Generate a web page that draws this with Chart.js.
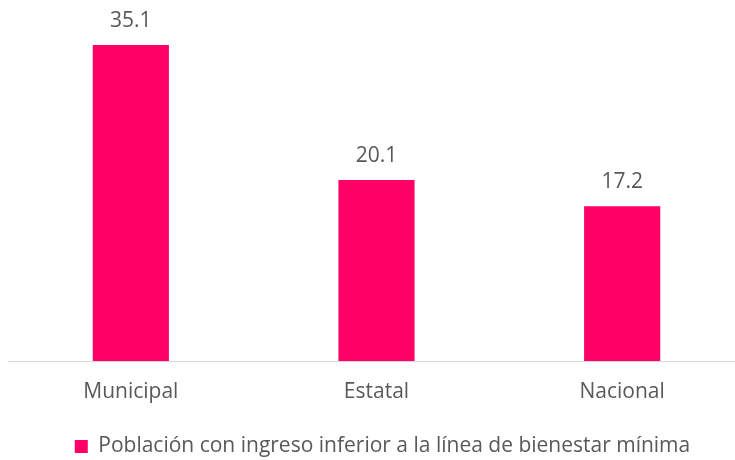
<!DOCTYPE html>
<html>
<head>
<meta charset="utf-8">
<script src="https://cdn.jsdelivr.net/npm/chart.js@4"></script>
<style>
    html, body { margin: 0; padding: 0; background: #fff; overflow: hidden; }
    #wrap { position: absolute; left: 0; top: 0; width: 745px; height: 460px; }
</style>
</head>
<body>
<div id="wrap"><canvas id="chart" width="745" height="460"></canvas></div>
<script>
const categories = ['Municipal', 'Estatal', 'Nacional'];
const values = [35.1, 20.1, 17.2];
const seriesName = 'Población con ingreso inferior a la línea de bienestar mínima';

const textColor = '#595959';
const fontFamily = "'Open Sans', sans-serif";
const fontSize = 21;

// draws the value above each bar
const valueLabels = {
    id: 'valueLabels',
    afterDatasetsDraw(chart) {
        const ctx = chart.ctx;
        ctx.save();
        ctx.font = fontSize + 'px ' + fontFamily;
        ctx.fillStyle = textColor;
        ctx.textAlign = 'center';
        ctx.textBaseline = 'alphabetic';
        chart.getDatasetMeta(0).data.forEach((bar, i) => {
            ctx.fillText(values[i].toFixed(1), bar.x, bar.y - 18);
        });
        ctx.restore();
    }
};

// nudge the legend a little to sit like the original
const legendShift = {
    id: 'legendShift',
    afterLayout(chart) {
        const lg = chart.legend;
        if (!lg) return;
        lg.left += 6; lg.right += 6;
        lg.top += 7; lg.bottom += 7;
    }
};

new Chart(document.getElementById('chart'), {
    type: 'bar',
    data: {
        labels: categories,
        datasets: [{
            label: seriesName,
            data: values,
            backgroundColor: '#FF0066',
            borderWidth: 0,
            barPercentage: 0.62,
            categoryPercentage: 0.5
        }]
    },
    options: {
        responsive: false,
        animation: false,
        layout: { padding: { top: 1, left: 8, right: 0, bottom: 0 } },
        plugins: {
            tooltip: { enabled: false },
            legend: {
                position: 'bottom',
                labels: {
                    boxWidth: 13,
                    boxHeight: 13,
                    color: textColor,
                    font: { family: fontFamily, size: fontSize }
                }
            }
        },
        scales: {
            x: {
                grid: { display: false },
                border: { display: true, color: '#d9d9d9', width: 1 },
                ticks: { color: textColor, padding: 10, font: { family: fontFamily, size: fontSize } },
                afterFit(scale) { scale.height = 58; }
            },
            y: {
                display: false,
                min: 0,
                max: 40
            }
        }
    },
    plugins: [valueLabels, legendShift]
});
</script>
</body>
</html>
